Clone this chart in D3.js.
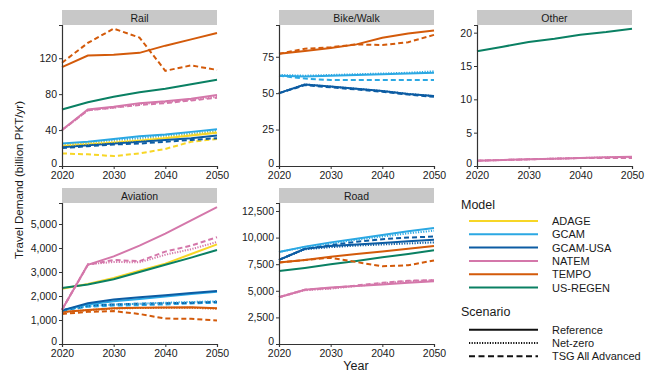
<!DOCTYPE html>
<html>
<head>
<meta charset="utf-8">
<script src="https://cdn.jsdelivr.net/npm/d3@7"></script>
<style>
  body { margin: 0; background: #fff; }
  text { font-family: "Liberation Sans", Arial, sans-serif; }
</style>
</head>
<body>
<svg id="chart" width="660" height="374"></svg>
<script>
// ******* DATA *******
const years = [2020, 2025, 2030, 2035, 2040, 2045, 2050];
const xTicks = [2020, 2030, 2040, 2050];

const models = ["ADAGE", "GCAM", "GCAM-USA", "NATEM", "TEMPO", "US-REGEN"];
const modelColors = ["#f7d626", "#2ba8e3", "#0c5ca3", "#d477aa", "#d35a0a", "#0a8063"];
const scenarios = ["Reference", "Net-zero", "TSG All Advanced"];

// each row: [model, scenario, values per year]
const railSeries = [
    ["ADAGE", "TSG All Advanced", [14, 13, 11, 14, 19, 27, 30]],
    ["ADAGE", "Reference", [22, 24, 26, 28, 31, 34, 37]],
    ["GCAM-USA", "TSG All Advanced", [20, 22, 24, 25, 27, 29, 31]],
    ["GCAM-USA", "Reference", [21, 23, 25, 27, 29, 31, 34]],
    ["GCAM", "Reference", [25, 27, 30, 33, 35, 38, 41]],
    ["GCAM", "Net-zero", [24, 26, 29, 31, 34, 36, 39]],
    ["ADAGE", "Net-zero", [23, 25, 27, 29, 32, 35, 38]],
    ["NATEM", "TSG All Advanced", [40, 62, 65, 68, 70, 73, 76]],
    ["NATEM", "Net-zero", [40, 62, 65, 69, 71, 74, 77]],
    ["NATEM", "Reference", [40, 63, 66, 70, 72, 75, 79]],
    ["US-REGEN", "Reference", [63, 71, 77, 82, 86, 91, 96]],
    ["TEMPO", "Reference", [110, 123, 124, 126, 134, 141, 148]],
    ["TEMPO", "TSG All Advanced", [115, 137, 153, 143, 106, 112, 107]]
];

const bikeSeries = [
    ["GCAM-USA", "TSG All Advanced", [50, 55.5, 54, 52.5, 51, 49, 47.5]],
    ["GCAM-USA", "Net-zero", [50, 56, 54.5, 53, 51.5, 49.5, 48]],
    ["GCAM-USA", "Reference", [50, 56, 54.5, 53, 51.5, 49.5, 48]],
    ["GCAM", "TSG All Advanced", [62, 60, 59, 59, 59, 59, 59]],
    ["GCAM", "Net-zero", [62.5, 62, 62.5, 63, 63.5, 64, 65]],
    ["GCAM", "Reference", [62, 61.5, 62, 62.5, 63, 63.5, 64]],
    ["TEMPO", "TSG All Advanced", [77, 80.5, 81.5, 83.5, 83, 85, 90]],
    ["TEMPO", "Reference", [77, 79, 81, 83.5, 88, 91, 93]]
];

const otherSeries = [
    ["NATEM", "TSG All Advanced", [0.8, 0.9, 1.0, 1.1, 1.2, 1.2, 1.2]],
    ["NATEM", "Net-zero", [0.8, 0.9, 1.0, 1.1, 1.2, 1.3, 1.3]],
    ["NATEM", "Reference", [0.8, 0.9, 1.0, 1.1, 1.2, 1.3, 1.4]],
    ["US-REGEN", "Reference", [17.2, 17.9, 18.6, 19.1, 19.7, 20.1, 20.6]]
];

const aviationSeries = [
    ["TEMPO", "TSG All Advanced", [1250, 1340, 1370, 1250, 1060, 1050, 980]],
    ["TEMPO", "Net-zero", [1330, 1410, 1480, 1500, 1510, 1510, 1470]],
    ["TEMPO", "Reference", [1330, 1420, 1490, 1510, 1520, 1530, 1490]],
    ["GCAM", "TSG All Advanced", [1400, 1550, 1600, 1620, 1650, 1690, 1720]],
    ["GCAM-USA", "TSG All Advanced", [1400, 1600, 1650, 1680, 1700, 1720, 1760]],
    ["GCAM", "Net-zero", [1400, 1580, 1640, 1680, 1720, 1750, 1780]],
    ["GCAM", "Reference", [1400, 1650, 1780, 1880, 1980, 2080, 2180]],
    ["GCAM-USA", "Reference", [1400, 1700, 1850, 1950, 2030, 2120, 2210]],
    ["ADAGE", "Reference", [2300, 2500, 2750, 3050, 3350, 3750, 4150]],
    ["US-REGEN", "Reference", [2330, 2480, 2700, 3000, 3300, 3600, 3920]],
    ["NATEM", "Net-zero", [1430, 3320, 3420, 3400, 3720, 3950, 4250]],
    ["NATEM", "TSG All Advanced", [1430, 3300, 3500, 3450, 3850, 4100, 4450]],
    ["NATEM", "Reference", [1430, 3300, 3650, 4100, 4600, 5150, 5700]]
];

const roadSeries = [
    ["NATEM", "Net-zero", [4400, 5050, 5200, 5450, 5700, 5900, 6000]],
    ["NATEM", "TSG All Advanced", [4400, 5100, 5250, 5500, 5750, 5950, 6000]],
    ["NATEM", "Reference", [4400, 5100, 5300, 5450, 5600, 5750, 5900]],
    ["US-REGEN", "Reference", [6850, 7150, 7500, 7800, 8150, 8450, 8800]],
    ["TEMPO", "TSG All Advanced", [7650, 7900, 8100, 7700, 7300, 7400, 7850]],
    ["TEMPO", "Reference", [7650, 7900, 8200, 8450, 8700, 8950, 9200]],
    ["GCAM-USA", "Net-zero", [7900, 8900, 9100, 9250, 9350, 9450, 9550]],
    ["GCAM-USA", "Reference", [7900, 8950, 9200, 9350, 9500, 9650, 9800]],
    ["GCAM-USA", "TSG All Advanced", [7900, 8950, 9300, 9600, 9850, 10000, 10100]],
    ["GCAM", "Net-zero", [8650, 9100, 9450, 9800, 10100, 10400, 10650]],
    ["GCAM", "Reference", [8650, 9150, 9550, 9900, 10250, 10600, 10900]]
];

// panels: title, series, y max, y ticks
const panels = [
    { title: "Rail", series: railSeries, yMax: 157, yTicks: [0, 40, 80, 120], col: 0, row: 0 },
    { title: "Bike/Walk", series: bikeSeries, yMax: 96.8, yTicks: [0, 25, 50, 75], col: 1, row: 0 },
    { title: "Other", series: otherSeries, yMax: 21.15, yTicks: [0, 5, 10, 15, 20], col: 2, row: 0 },
    { title: "Aviation", series: aviationSeries, yMax: 5875, yTicks: [0, 1000, 2000, 3000, 4000, 5000], col: 0, row: 1 },
    { title: "Road", series: roadSeries, yMax: 13250, yTicks: [0, 2500, 5000, 7500, 10000, 12500], col: 1, row: 1 }
];

// ******* LAYOUT *******
const colX = [62, 279, 477];
const panelW = 155;
const rowTop = [10, 188];   // strip top
const stripH = 15;
const plotH = 141;

const dashFor = {
    "Reference": null,
    "Net-zero": "1.2,1.4",
    "TSG All Advanced": "5,3"
};

const colorScale = d3.scaleOrdinal().domain(models).range(modelColors);

const svg = d3.select("#chart");

panels.forEach(p => {
    const left = colX[p.col];
    const stripTop = rowTop[p.row];
    const top = stripTop + stripH;
    const g = svg.append("g").attr("transform", `translate(${left},0)`);

    // strip
    g.append("rect")
        .attr("x", 0).attr("y", stripTop)
        .attr("width", panelW).attr("height", stripH)
        .attr("fill", "#c8c8c8");
    g.append("text")
        .attr("x", panelW / 2).attr("y", stripTop + 11.5)
        .attr("text-anchor", "middle")
        .attr("font-size", 10.5)
        .attr("fill", "#1a1a1a")
        .text(p.title);

    const x = d3.scaleLinear().domain([2020, 2050]).range([0, panelW]);
    const y = d3.scaleLinear().domain([0, p.yMax]).range([top + plotH, top]);

    // lines
    const line = d3.line()
        .x((d, i) => x(years[i]))
        .y(d => y(d));

    g.append("g").selectAll("path")
        .data(p.series)
        .join("path")
        .attr("d", d => line(d[2]))
        .attr("fill", "none")
        .attr("stroke", d => colorScale(d[0]))
        .attr("stroke-width", 2)
        .attr("stroke-dasharray", d => dashFor[d[1]]);

    // axes
    const fmt = p.yMax > 1000 ? d3.format(",") : d3.format("d");
    const yAxis = g.append("g")
        .call(d3.axisLeft(y).tickValues(p.yTicks).tickSize(3).tickPadding(2).tickFormat(fmt));
    const xAxis = g.append("g")
        .attr("transform", `translate(0,${top + plotH})`)
        .call(d3.axisBottom(x).tickValues(xTicks).tickSize(3).tickPadding(2.5).tickFormat(d3.format("d")));

    [xAxis, yAxis].forEach(a => {
        a.select(".domain").attr("stroke", "#333").attr("stroke-width", 1.2);
        a.selectAll(".tick line").attr("stroke", "#333");
        a.selectAll("text")
            .attr("font-size", 10.5)
            .attr("fill", "#1a1a1a")
            .style("font-family", "'Liberation Sans', Arial, sans-serif");
    });
    // keep the bottom "0" clear of the year labels
    yAxis.selectAll(".tick text").filter(d => d === 0).attr("dy", "0.05em");
});

// axis titles
svg.append("text")
    .attr("transform", "translate(23,180) rotate(-90)")
    .attr("text-anchor", "middle")
    .attr("font-size", 11.6)
    .attr("fill", "#1a1a1a")
    .text("Travel Demand (billion PKT/yr)");

svg.append("text")
    .attr("x", 356).attr("y", 370)
    .attr("text-anchor", "middle")
    .attr("font-size", 12.5)
    .attr("fill", "#1a1a1a")
    .text("Year");

// ******* LEGEND *******
const legend = svg.append("g");
const lineX0 = 469, lineX1 = 538, labelX = 552;

legend.append("text")
    .attr("x", 461).attr("y", 208.5)
    .attr("font-size", 12.5).attr("fill", "#1a1a1a")
    .text("Model");

const modelRows = legend.selectAll("g.model")
    .data(models)
    .join("g")
    .attr("class", "model")
    .attr("transform", (d, i) => `translate(0,${221 + i * 13.3})`);
modelRows.append("line")
    .attr("x1", lineX0).attr("x2", lineX1)
    .attr("stroke", d => colorScale(d))
    .attr("stroke-width", 2);
modelRows.append("text")
    .attr("x", labelX).attr("y", 4)
    .attr("font-size", 11).attr("fill", "#1a1a1a")
    .text(d => d);

legend.append("text")
    .attr("x", 461).attr("y", 316)
    .attr("font-size", 12.5).attr("fill", "#1a1a1a")
    .text("Scenario");

const scenRows = legend.selectAll("g.scen")
    .data(scenarios)
    .join("g")
    .attr("class", "scen")
    .attr("transform", (d, i) => `translate(0,${329.7 + i * 13.3})`);
scenRows.append("line")
    .attr("x1", lineX0).attr("x2", lineX1)
    .attr("stroke", "#111")
    .attr("stroke-width", 2)
    .attr("stroke-dasharray", d => d === "TSG All Advanced" ? "6,3.5" : dashFor[d]);
scenRows.append("text")
    .attr("x", labelX).attr("y", 4)
    .attr("font-size", 11).attr("fill", "#1a1a1a")
    .text(d => d);
</script>
</body>
</html>
